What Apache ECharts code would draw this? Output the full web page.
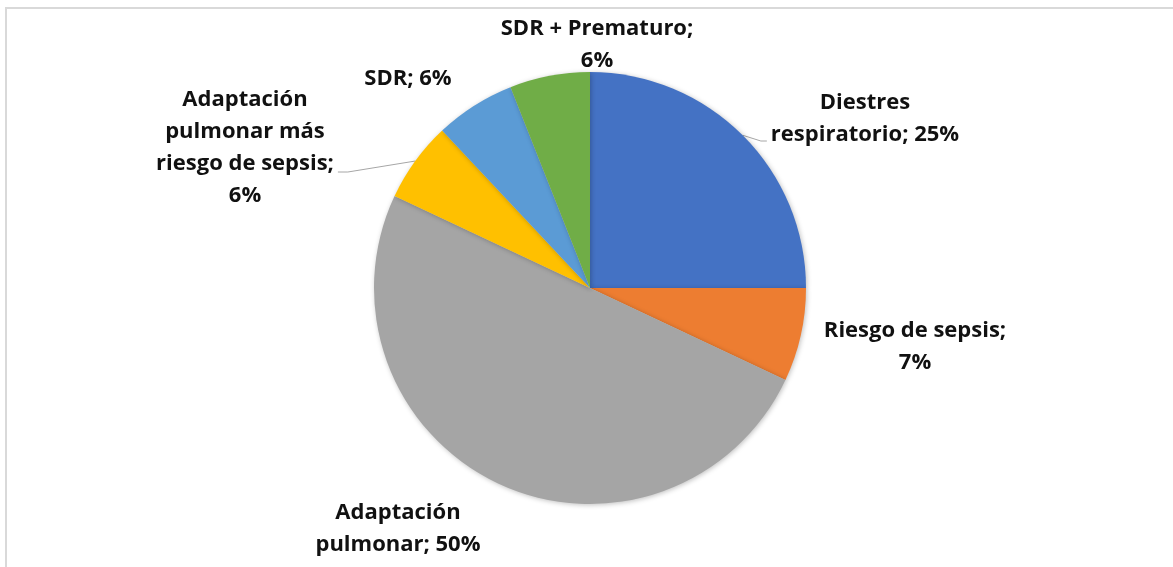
<!DOCTYPE html>
<html>
<head>
<meta charset="utf-8">
<script src="https://cdn.jsdelivr.net/npm/echarts@6/dist/echarts.min.js"></script>
<style>
  html, body { margin: 0; padding: 0; background: #fff; }
  #frame { position: absolute; left: 5px; top: 7px; right: -10px; bottom: -10px;
           border-top: 2px solid #d9d9d9; border-left: 2px solid #d9d9d9; }
  #chart { position: absolute; left: 0; top: 0; width: 1173px; height: 567px; }
</style>
</head>
<body>
<div id="frame"></div>
<div id="chart"></div>
<script>
const categories = ['Diestres respiratorio', 'Riesgo de sepsis', 'Adaptación pulmonar',
  'Adaptación pulmonar más riesgo de sepsis', 'SDR', 'SDR + Prematuro'];
const values = [25, 7, 50, 6, 6, 6];
const wrappedNames = ['Diestres\nrespiratorio', 'Riesgo de sepsis', 'Adaptación\npulmonar',
  'Adaptación\npulmonar más\nriesgo de sepsis', 'SDR', 'SDR + Prematuro'];
const percentBreak = [' ', '\n', ' ', '\n', ' ', '\n'];
const colors = ['#4472C4', '#ED7D31', '#A5A5A5', '#FFC000', '#5B9BD5', '#70AD47'];

// label anchor (centre of text block) in px, and whether a leader line is drawn
const labelAnchors = [
  { x: 865, y: 119, line: true, side: 'left' },
  { x: 915, y: 347, line: false },
  { x: 398, y: 529, line: false },
  { x: 245, y: 148, line: true, side: 'right' },
  { x: 408, y: 79, line: false },
  { x: 597, y: 45, line: false }
];

const chart = echarts.init(document.getElementById('chart'), null, { renderer: 'canvas' });
chart.setOption({
  backgroundColor: 'transparent',
  animation: false,
  series: [{
    type: 'pie',
    center: [590, 288],
    radius: 216,
    startAngle: 90,
    clockwise: true,
    avoidLabelOverlap: false,
    data: categories.map((c, i) => ({
      name: c, value: values[i], itemStyle: { color: colors[i] },
      labelLine: { show: labelAnchors[i].line }
    })),
    itemStyle: { borderWidth: 0, shadowBlur: 5, shadowColor: 'rgba(0,0,0,0.25)', shadowOffsetX: 1, shadowOffsetY: 1 },
    emphasis: { disabled: true },
    label: {
      show: true,
      position: 'outside',
      formatter: p => wrappedNames[p.dataIndex] + ';' + percentBreak[p.dataIndex] + Math.round(p.percent) + '%',
      fontFamily: 'Open Sans',
      fontWeight: 'bold',
      fontSize: 22,
      lineHeight: 32,
      color: '#111',
      align: 'center'
    },
    labelLine: { show: true, lineStyle: { color: '#a6a6a6', width: 1 }, smooth: false },
    labelLayout: function (params) {
      const a = labelAnchors[params.dataIndex];
      const r = params.labelRect;
      const res = { x: a.x, y: a.y, align: 'center', verticalAlign: 'middle' };
      if (a.line && params.labelLinePoints) {
        const start = params.labelLinePoints[0];
        let endX, lineY;
        if (a.side === 'left') {
          endX = a.x - r.width / 2 - 4;
          lineY = a.y + 22;
          res.labelLinePoints = [start, [endX - 6, lineY], [endX, lineY]];
        } else {
          endX = a.x + r.width / 2 + 4;
          lineY = a.y + 24;
          res.labelLinePoints = [start, [endX + 10, lineY], [endX, lineY]];
        }
      }
      return res;
    }
  }]
});
</script>
</body>
</html>
